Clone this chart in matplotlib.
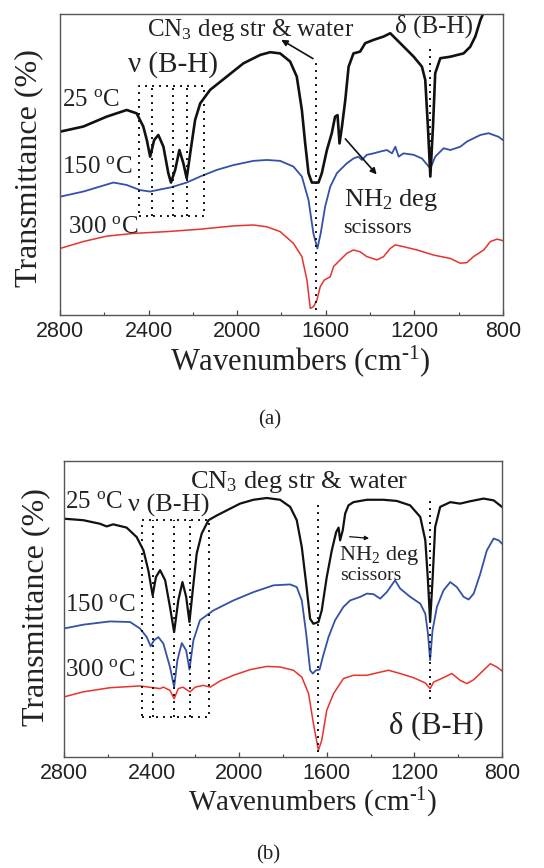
import matplotlib

matplotlib.use("Agg")
import matplotlib.pyplot as plt
from matplotlib.ticker import MultipleLocator

plt.rcParams["font.family"] = ["Liberation Serif", "DejaVu Serif"]
plt.rcParams["mathtext.fontset"] = "custom"
plt.rcParams["mathtext.rm"] = "Liberation Serif"
plt.rcParams["mathtext.it"] = "Liberation Serif:italic"

# ---- panel (a) spectra: wavenumber (cm-1), offset transmittance (a.u.)
a_black_wn = [2800, 2695, 2589, 2499, 2454, 2424, 2408, 2393, 2375, 2356, 2333, 2311, 2299, 2280,
              2261, 2243, 2228, 2210, 2190, 2167, 2122, 2047, 1972, 1896, 1851, 1806, 1761, 1731,
              1708, 1693, 1678, 1663, 1633, 1618, 1595, 1573, 1558, 1547, 1538, 1527, 1512, 1497,
              1475, 1445, 1422, 1384, 1339, 1309, 1264, 1203, 1166, 1151, 1139, 1128, 1116, 1106,
              1083, 1038, 978, 948, 925, 902, 880]
a_black_t = [60.9, 62.6, 65.9, 68.1, 67.0, 62.6, 58.1, 52.6, 58.1, 59.8, 55.9, 47.1, 44.0, 48.2,
             54.8, 50.4, 45.4, 54.8, 64.8, 70.3, 74.8, 79.2, 83.6, 86.4, 87.3, 86.9, 84.2, 79.2,
             68.1, 57.0, 47.1, 44.0, 44.0, 47.1, 54.8, 60.4, 65.9, 66.4, 57.0, 62.6, 71.4, 82.5,
             86.9, 87.5, 90.3, 91.4, 92.5, 93.6, 90.3, 85.8, 82.5, 78.1, 62.6, 46.0, 62.6, 80.3,
             85.3, 85.8, 86.9, 89.1, 92.5, 98.0, 101.7]

a_blue_wn = [2800, 2695, 2559, 2499, 2439, 2393, 2348, 2299, 2228, 2167, 2092, 2017, 1927, 1866,
             1806, 1746, 1708, 1678, 1656, 1638, 1623, 1603, 1580, 1550, 1505, 1475, 1453, 1437,
             1415, 1384, 1354, 1324, 1301, 1286, 1271, 1249, 1203, 1166, 1128, 1106, 1068, 1038,
             993, 963, 933, 902, 865, 843, 820, 800]
a_blue_t = [39.3, 41.0, 44.0, 43.2, 41.5, 41.0, 41.7, 42.4, 44.0, 46.0, 48.2, 49.8, 51.2, 51.5,
            51.2, 49.3, 46.0, 38.2, 27.1, 22.1, 27.1, 36.0, 42.6, 47.1, 50.4, 52.0, 52.6, 51.5,
            53.2, 53.7, 54.3, 54.8, 53.7, 55.9, 52.6, 53.7, 53.2, 52.0, 48.7, 52.6, 55.4, 54.8,
            55.9, 57.6, 58.7, 59.8, 60.4, 59.8, 59.2, 58.1]

a_red_wn = [2800, 2695, 2589, 2469, 2318, 2167, 2017, 1927, 1866, 1806, 1746, 1708, 1685, 1670,
            1655, 1640, 1625, 1607, 1580, 1565, 1535, 1505, 1475, 1445, 1415, 1369, 1339, 1309,
            1286, 1249, 1188, 1113, 1038, 993, 963, 933, 887, 857, 827, 800]
a_red_t = [22.1, 24.4, 26.2, 27.1, 27.7, 28.5, 29.6, 29.9, 29.3, 27.7, 23.8, 19.4, 11.6, 2.2,
           2.8, 5.0, 9.4, 11.6, 12.7, 16.1, 18.3, 20.5, 21.6, 21.0, 19.4, 18.3, 19.4, 22.1,
           23.3, 22.7, 21.6, 19.9, 18.8, 17.2, 17.4, 19.4, 21.6, 24.4, 25.2, 24.7]

# ---- panel (b) spectra
b_black_wn = [2800, 2712, 2636, 2605, 2575, 2514, 2468, 2437, 2415, 2395, 2380, 2361, 2338, 2316,
              2297, 2278, 2259, 2242, 2227, 2212, 2194, 2171, 2140, 2102, 2057, 1996, 1935, 1874,
              1813, 1767, 1737, 1714, 1694, 1676, 1661, 1638, 1623, 1600, 1577, 1557, 1546, 1539,
              1527, 1516, 1501, 1478, 1417, 1341, 1280, 1219, 1173, 1150, 1138, 1128, 1117, 1105,
              1082, 1036, 991, 945, 884, 838, 800]
b_black_t = [80.5, 80.0, 78.8, 77.9, 78.6, 77.5, 74.3, 69.8, 63.1, 54.6, 60.8, 63.1, 59.7, 50.7,
             42.2, 52.9, 59.1, 54.1, 45.6, 56.3, 68.7, 75.5, 80.0, 81.6, 83.3, 85.6, 86.9, 87.5,
             86.9, 84.5, 80.0, 70.9, 58.6, 46.7, 45.0, 45.6, 49.5, 60.8, 69.8, 76.0, 77.5, 73.2,
             76.6, 82.2, 85.0, 86.1, 86.9, 86.9, 86.5, 85.0, 81.1, 73.2, 59.7, 45.6, 59.7, 77.7,
             84.5, 86.1, 85.6, 86.4, 87.3, 86.7, 84.5]

b_blue_wn = [2800, 2712, 2590, 2498, 2453, 2422, 2404, 2389, 2369, 2346, 2316, 2297, 2282, 2262,
             2242, 2227, 2209, 2179, 2118, 2026, 1935, 1843, 1767, 1737, 1714, 1694, 1676, 1664,
             1649, 1633, 1618, 1592, 1562, 1524, 1493, 1447, 1417, 1387, 1356, 1326, 1288, 1265,
             1219, 1173, 1150, 1138, 1128, 1117, 1097, 1067, 1036, 1006, 975, 952, 929, 899, 869,
             838, 815, 800]
b_blue_t = [43.4, 44.7, 45.8, 45.6, 43.4, 40.5, 37.4, 39.4, 40.5, 38.3, 30.4, 23.6, 32.7, 38.5,
            36.0, 29.5, 39.4, 46.2, 49.5, 52.9, 55.7, 58.0, 58.3, 57.4, 52.9, 41.7, 29.3, 28.2,
            29.3, 29.5, 33.8, 40.5, 46.2, 50.7, 52.9, 54.1, 55.2, 55.0, 53.5, 55.7, 59.7, 56.9,
            54.1, 51.8, 48.4, 41.7, 32.7, 42.8, 50.7, 56.3, 59.1, 57.4, 54.1, 53.2, 55.2, 61.9,
            69.8, 73.8, 73.2, 72.1]

b_red_wn = [2800, 2712, 2590, 2453, 2392, 2361, 2346, 2316, 2297, 2278, 2257, 2239, 2224, 2201,
            2163, 2132, 2087, 2026, 1950, 1874, 1813, 1752, 1714, 1683, 1661, 1638, 1623, 1600,
            1569, 1524, 1478, 1417, 1371, 1318, 1265, 1204, 1150, 1128, 1112, 1067, 1029, 991,
            960, 929, 884, 853, 823, 800]
b_red_t = [20.3, 22.0, 23.4, 24.0, 23.4, 23.1, 23.6, 22.5, 19.7, 23.1, 23.6, 22.7, 22.0, 23.6,
           24.2, 23.6, 25.7, 27.6, 29.5, 30.6, 30.4, 29.3, 27.0, 21.4, 11.3, 2.3, 5.6, 15.8,
           21.4, 26.5, 27.6, 27.6, 28.4, 29.3, 28.2, 26.8, 25.0, 23.1, 25.3, 26.8, 28.2, 25.9,
           24.8, 26.1, 29.3, 31.5, 30.4, 29.1]

temp_labels = ["25 $^{\\mathrm{o}}$C", "150 $^{\\mathrm{o}}$C", "300 $^{\\mathrm{o}}$C"]
x_ticks = [2800, 2400, 2000, 1600, 1200, 800]

BLACK = "#111111"
BLUE = "#3450a8"
RED = "#e8322c"
TXT = "#222222"
DOT = dict(color="#111111", lw=1.4, ls=(0, (1, 2.6)))


def _dotted_box(ax, x0, x1, y0, y1, inner):
    ax.plot([x0, x1, x1, x0, x0], [y0, y0, y1, y1, y0], **DOT)
    for xv in inner:
        ax.plot([xv, xv], [y0, y1], **DOT)


def _setup(ax):
    ax.set_xlim(2800, 800)
    ax.set_ylim(0, 100)
    ax.set_xticks(x_ticks)
    ax.xaxis.set_minor_locator(MultipleLocator(200))
    ax.set_yticks([])
    ax.tick_params(axis="x", which="major", direction="in", length=3.5, width=0.9, pad=4,
                   labelsize=15.5, colors="#444444", labelcolor="#222222")
    ax.tick_params(axis="x", which="minor", direction="in", length=2, width=0.8, colors="#444444")
    for lab in ax.get_xticklabels():
        lab.set_fontfamily("Liberation Sans")
    for sp in ax.spines.values():
        sp.set_color("#555555")
        sp.set_linewidth(1.0)


fig = plt.figure(figsize=(5.44, 8.68), dpi=100)

# ---------------- panel (a)
ax1 = fig.add_axes([0.1103, 0.6371, 0.8143, 0.3468])
ax1.plot(a_red_wn, a_red_t, color=RED, lw=1.1)
ax1.plot(a_blue_wn, a_blue_t, color=BLUE, lw=1.3)
ax1.plot(a_black_wn, a_black_t, color=BLACK, lw=1.9)
_setup(ax1)
_dotted_box(ax1, 2442, 2149, 32.9, 76.1, [2386, 2292, 2225])
ax1.plot([1643, 1643], [1.7, 84.7], **DOT)
ax1.plot([1128, 1128], [46.0, 89.1], **DOT)
ax1.text(2408, 94.7, "CN$_3$ deg str & water", fontsize=18, color=TXT, va="center")
ax1.text(1286, 95.8, "δ (B-H)", fontsize=18, color=TXT, va="center")
ax1.text(2491, 83.1, "ν (B-H)", fontsize=21, color=TXT, va="center")
ax1.text(2791, 71.4, temp_labels[0], fontsize=18, color=TXT, va="center")
ax1.text(2792, 49.3, temp_labels[1], fontsize=18, color=TXT, va="center")
ax1.text(2762, 29.3, temp_labels[2], fontsize=18, color=TXT, va="center")
ax1.text(1520, 38.2, "NH$_2$ deg", fontsize=19, color=TXT, va="center")
ax1.text(1520, 28.8, "scissors", fontsize=16, color=TXT, va="center")
ax1.annotate("", xy=(1812, 91.9), xytext=(1647, 84.7),
             arrowprops=dict(arrowstyle="-|>", color=BLACK, lw=1.2, mutation_scale=9))
ax1.annotate("", xy=(1362, 46.0), xytext=(1520, 59.2),
             arrowprops=dict(arrowstyle="-|>", color=BLACK, lw=1.2, mutation_scale=9))

# ---------------- panel (b)
ax2 = fig.add_axes([0.1176, 0.1279, 0.8051, 0.3410])
ax2.plot(b_red_wn, b_red_t, color=RED, lw=1.1)
ax2.plot(b_blue_wn, b_blue_t, color=BLUE, lw=1.3)
ax2.plot(b_black_wn, b_black_t, color=BLACK, lw=1.6)
_setup(ax2)
_dotted_box(ax2, 2445, 2136, 13.5, 80.2, [2395, 2296, 2224])
ax2.plot([1642, 1642], [1.7, 86.7], **DOT)
ax2.plot([1128, 1128], [19.7, 87.3], **DOT)
ax2.text(2224, 92.9, "CN$_3$ deg str & water", fontsize=19, color=TXT, va="center")
ax2.text(2795, 86.1, temp_labels[0], fontsize=18, color=TXT, va="center")
ax2.text(2506, 85.0, "ν (B-H)", fontsize=19, color=TXT, va="center")
ax2.text(2795, 51.2, temp_labels[1], fontsize=18, color=TXT, va="center")
ax2.text(2795, 29.3, temp_labels[2], fontsize=18, color=TXT, va="center")
ax2.text(1546, 68.1, "NH$_2$ deg", fontsize=16, color=TXT, va="center")
ax2.text(1539, 61.4, "scissors", fontsize=14, color=TXT, va="center")
ax2.text(1318, 10.7, "δ (B-H)", fontsize=22, color=TXT, va="center")
ax2.annotate("", xy=(1394, 73.8), xytext=(1508, 74.5),
             arrowprops=dict(arrowstyle="-|>", color=BLACK, lw=0.9, mutation_scale=6))

# ---------------- axis labels and panel tags
xlab = "Wavenumbers (cm$^{\\text{-}1}$)"
fig.text(300 / 544, 1 - 361 / 868, xlab, fontsize=22, color=TXT, ha="center", va="center")
fig.text(313 / 544, 1 - 803 / 868, xlab, fontsize=21, color=TXT, ha="center", va="center")
fig.text(29 / 544, 1 - 168 / 868, "Transmittance (%)", fontsize=23, color=TXT,
         rotation=90, ha="center", va="center")
fig.text(36 / 544, 1 - 607 / 868, "Transmittance (%)", fontsize=23, color=TXT,
         rotation=90, ha="center", va="center")
fig.text(270 / 544, 1 - 420 / 868, "(a)", fontsize=15, color=TXT, ha="center", va="center")
fig.text(268 / 544, 1 - 855 / 868, "(b)", fontsize=15, color=TXT, ha="center", va="center")

fig.savefig("out.png", dpi=100)
